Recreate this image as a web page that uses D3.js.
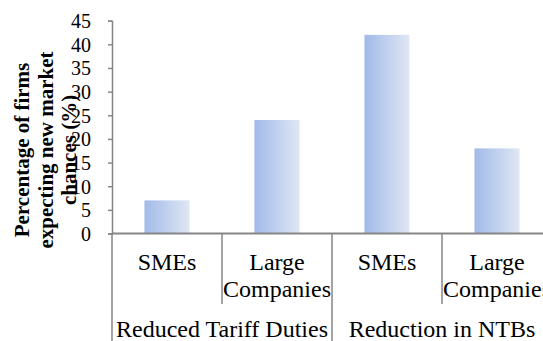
<!DOCTYPE html>
<html>
<head>
<meta charset="utf-8">
<script src="https://cdn.jsdelivr.net/npm/d3@7"></script>
</head>
<body style="margin:0">
<script>
// values
const groups = ["Reduced Tariff Duties", "Reduction in NTBs"];
const firmTypes = ["SMEs", "Large Companies"];
const values = [7, 24, 42, 18];
const yTicks = [0, 5, 10, 15, 20, 25, 30, 35, 40, 45];
const titleLines = ["Percentage of firms", "expecting new market", "chances (%)"];

const width = 543,
      height = 341;
const plot = {left: 112, right: 552, top: 20.7, bottom: 233.5};
const serif = "\"Liberation Serif\"";

const cats = [];
groups.forEach((g, gi) => firmTypes.forEach((f, fi) => cats.push({key: g + "|" + f, group: g, type: f, value: values[gi * 2 + fi]})));

const svg = d3.select("body")
.append("svg")
  .attr("width", width)
  .attr("height", height)
  .style("display", "block");

const grad = svg.append("defs")
.append("linearGradient")
  .attr("id", "barFill")
  .attr("x1", "0").attr("x2", "1").attr("y1", "0").attr("y2", "0");
grad.append("stop").attr("offset", "0%").attr("stop-color", "#a1bae8");
grad.append("stop").attr("offset", "100%").attr("stop-color", "#e0e7f4");

const y = d3.scaleLinear()
.domain([0, 45])
.range([plot.bottom, plot.top]);

const xCat = d3.scaleBand()
.domain(cats.map(d => d.key))
.range([plot.left, plot.right]);

const xBar = d3.scaleBand()
.domain(cats.map(d => d.key))
.range([plot.left, plot.right])
.paddingInner(0.59)
.paddingOuter(0.295);

const xGroup = d3.scaleBand()
.domain(groups)
.range([plot.left, plot.right]);

// bars
svg.selectAll(".bar")
.data(cats)
.enter()
.append("rect")
  .attr("class", "bar")
  .attr("x", d => xBar(d.key))
  .attr("y", d => y(d.value))
  .attr("width", xBar.bandwidth())
  .attr("height", d => y(0) - y(d.value))
  .attr("fill", "url(#barFill)");

// y axis
const yAxis = svg.append("g")
  .attr("transform", `translate(${plot.left}, 0)`)
  .call(d3.axisLeft(y).tickValues(yTicks).tickSize(4).tickPadding(17));
yAxis.attr("font-family", null).attr("font-size", null);
yAxis.select(".domain").attr("stroke", "#868686").attr("stroke-width", 1.5);
yAxis.selectAll(".tick line").attr("stroke", "#868686").attr("stroke-width", 1.5);
yAxis.selectAll(".tick text")
  .style("font-family", serif)
  .style("font-size", "20px")
  .attr("fill", "#000")
  .attr("dy", "0.34em");

// x axis line
svg.append("line")
  .attr("x1", plot.left)
  .attr("x2", width)
  .attr("y1", y(0))
  .attr("y2", y(0))
  .attr("stroke", "#868686")
  .attr("stroke-width", 2);

// separators between categories (short) and groups (long)
svg.selectAll(".sep")
.data(cats)
.enter()
.append("line")
  .attr("class", "sep")
  .attr("x1", d => xCat(d.key))
  .attr("x2", d => xCat(d.key))
  .attr("y1", y(0))
  .attr("y2", d => d.type === firmTypes[0] ? height : 304)
  .attr("stroke", "#868686")
  .attr("stroke-width", 1.5);

// category labels, one text per line
const catLines = [];
cats.forEach(d => d.type.split(" ").forEach((w, i) => catLines.push({key: d.key, word: w, line: i})));
svg.selectAll(".cat")
.data(catLines)
.enter()
.append("text")
  .attr("class", "cat")
  .attr("x", d => xCat(d.key) + xCat.bandwidth() / 2)
  .attr("y", d => 270 + d.line * 26.5)
  .attr("text-anchor", "middle")
  .style("font-family", serif)
  .style("font-size", "24px")
  .attr("fill", "#000")
  .text(d => d.word);

// group labels
svg.selectAll(".grp")
.data(groups)
.enter()
.append("text")
  .attr("class", "grp")
  .attr("x", d => xGroup(d) + xGroup.bandwidth() / 2)
  .attr("y", 337)
  .attr("text-anchor", "middle")
  .style("font-family", serif)
  .style("font-size", "24px")
  .attr("fill", "#000")
  .text(d => d);

// y axis title, one text per line
svg.selectAll(".ytitle")
.data(titleLines)
.enter()
.append("text")
  .attr("class", "ytitle")
  .attr("transform", (d, i) => `translate(${29 + i * 23.5}, 150) rotate(-90)`)
  .attr("text-anchor", "middle")
  .style("font-family", serif)
  .style("font-size", "21px")
  .style("font-weight", "bold")
  .attr("fill", "#000")
  .text(d => d);
</script>
</body>
</html>
